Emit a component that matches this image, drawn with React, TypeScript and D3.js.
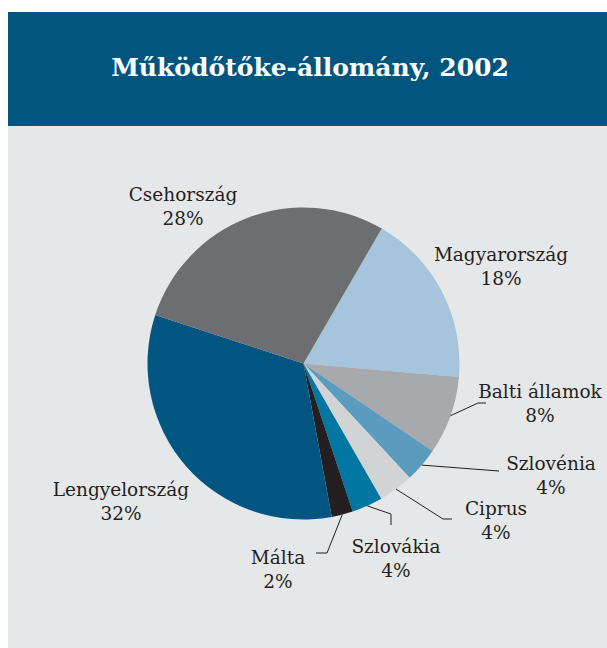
import React from "react";
import * as d3 from "d3";

// Működőtőke-állomány, 2002 (share of FDI stock)
const countries = [
  "Magyarország",
  "Balti államok",
  "Szlovénia",
  "Ciprus",
  "Szlovákia",
  "Málta",
  "Lengyelország",
  "Csehország",
];
const shares = [18, 8.1, 3.6, 3.6, 3.2, 2.2, 32.9, 28.3];
const shareLabels = ["18%", "8%", "4%", "4%", "4%", "2%", "32%", "28%"];
const colors = [
  "#a6c4dc",
  "#a7a9ac",
  "#5b9bbd",
  "#d1d3d4",
  "#0076a3",
  "#231f20",
  "#005581",
  "#6d6e71",
];

// label anchor (centre of text block, first baseline) and leader line bends
const labelPos: Record<string, { x: number; y: number; line?: [number, number][] }> = {
  "Magyarország": { x: 501, y: 261 },
  "Balti államok": { x: 540, y: 398, line: [[478, 403], [486, 403]] },
  "Szlovénia": { x: 551, y: 470, line: [[499, 471]] },
  "Ciprus": { x: 496, y: 515, line: [[443, 519], [452, 519]] },
  "Szlovákia": { x: 396, y: 553, line: [[391, 514], [391, 525]] },
  "Málta": { x: 278, y: 564, line: [[327, 553], [316, 553]] },
  "Lengyelország": { x: 121, y: 496 },
  "Csehország": { x: 183, y: 201 },
};

const W = 607;
const H = 648;
const cx = 303.5;
const cy = 363.5;
const R = 156;
const startDeg = 30.1;

export default function App() {
  const pie = d3
    .pie<number>()
    .sort(null)
    .value((d) => d)
    .startAngle((startDeg * Math.PI) / 180)
    .endAngle((startDeg * Math.PI) / 180 + 2 * Math.PI);
  const arcs = pie(shares);
  const arc = d3.arc<d3.PieArcDatum<number>>().innerRadius(0).outerRadius(R);
  const edge = d3.arc<d3.PieArcDatum<number>>().innerRadius(R).outerRadius(R);
  const lineGen = d3.line();

  const font = "'DejaVu Serif', serif";

  return (
    <svg
      width={W}
      height={H}
      style={{ position: "absolute", left: 0, top: 0 }}
    >
      <rect x={0} y={0} width={W} height={H} fill="#fff" />
      <rect x={8} y={12} width={W - 8} height={114} fill="#00557f" />
      <rect x={8} y={126} width={W - 8} height={H - 126} fill="#e6e7e8" />
      <text
        x={310}
        y={76}
        textAnchor="middle"
        fill="#fff"
        fontFamily={font}
        fontWeight="bold"
        fontSize={25}
      >
        Működőtőke-állomány, 2002
      </text>
      <g transform={`translate(${cx},${cy})`}>
        {arcs.map((a, i) => (
          <path key={countries[i]} d={arc(a) ?? ""} fill={colors[i]} />
        ))}
      </g>
      {arcs.map((a, i) => {
        const p = labelPos[countries[i]];
        if (!p.line) return null;
        const [ex, ey] = edge.centroid(a);
        const pts: [number, number][] = [[cx + ex, cy + ey], ...p.line];
        return (
          <path
            key={"l" + i}
            d={lineGen(pts) ?? ""}
            fill="none"
            stroke="#231f20"
            strokeWidth={1}
          />
        );
      })}
      {countries.map((c, i) => {
        const p = labelPos[c];
        return (
          <text
            key={"t" + c}
            x={p.x}
            y={p.y}
            textAnchor="middle"
            fill="#231f20"
            fontFamily={font}
            fontSize={18.5}
          >
            <tspan x={p.x}>{c}</tspan>
            <tspan x={p.x} dy={24}>
              {shareLabels[i]}
            </tspan>
          </text>
        );
      })}
    </svg>
  );
}
